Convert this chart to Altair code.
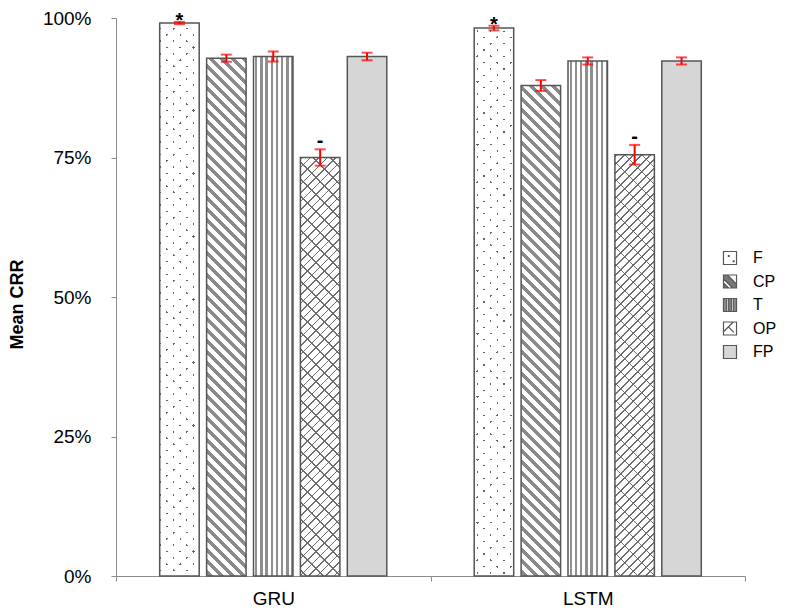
import math
import altair as alt
import pandas as pd

# ---------------- data ----------------
models = ["GRU", "LSTM"]
series = ["F", "CP", "T", "OP", "FP"]
gru_mean = [0.991, 0.928, 0.931, 0.750, 0.931]
lstm_mean = [0.982, 0.879, 0.923, 0.755, 0.923]
gru_err = [0.002, 0.0064, 0.009, 0.0146, 0.0068]
lstm_err = [0.0041, 0.0097, 0.0064, 0.0176, 0.0064]
gru_note = ["*", "", "", "-", ""]
lstm_note = ["*", "", "", "-", ""]
y_ticks = [0.0, 0.25, 0.5, 0.75, 1.0]

rows = []
for m, means, errs, notes in [("GRU", gru_mean, gru_err, gru_note),
                              ("LSTM", lstm_mean, lstm_err, lstm_note)]:
    for s, v, e, n in zip(series, means, errs, notes):
        rows.append({"model": m, "series": s, "mean": v,
                     "lower": v - e, "upper": v + e, "note": n})
df = pd.DataFrame(rows)

# ---------------- layout / style ----------------
FONT = "Liberation Sans"
AX = "#8c8c8c"
EDGE = "#555555"
W, H = 629, 558
PAD_IN, PAD_OUT = 0.158, 0.932
step = (W / len(models)) / (len(series) - PAD_IN + 2 * PAD_OUT)
BW = step * (1 - PAD_IN)
TR = "rgba(255,255,255,0)"


def stripes(w, h, ax, ay, duty, on, off, phase=0.0):
    """Linear gradient (bbox units) giving stripes of f = ax*X + ay*Y (pixels)."""
    su = 0.0 if ax >= 0 else 1.0
    sv = 0.0 if ay >= 0 else 1.0
    R = abs(ax) * w + abs(ay) * h
    mu = R / (ax * ax * w * w + ay * ay * h * h)
    x2 = su + mu * ax * w
    y2 = sv + mu * ay * h
    stops = []
    i = -1
    while (i + phase) / R <= 1:
        a = min(max((i + phase) / R, 0.0), 1.0)
        b = min(max((i + phase + duty) / R, 0.0), 1.0)
        if b > 0 and a < 1:
            for o, c in [(a, off), (a, on), (b, on), (b, off)]:
                stops.append({"offset": round(o, 5), "color": c})
        i += 1
    if not stops:
        stops = [{"offset": 0, "color": off}, {"offset": 1, "color": off}]
    return {"gradient": "linear", "x1": su, "y1": sv,
            "x2": round(x2, 6), "y2": round(y2, 6), "stops": stops}


x_enc = alt.X("model:N", title=None,
              scale=alt.Scale(domain=models, paddingInner=0, paddingOuter=0),
              axis=alt.Axis(labelAngle=0, labelFont=FONT, labelFontSize=19,
                            labelColor="#000000", labelPadding=8,
                            tickBand="extent", tickSize=5, tickColor=AX,
                            domainColor=AX, grid=False))
xo_enc = alt.XOffset("series:N",
                     scale=alt.Scale(domain=series, paddingInner=PAD_IN,
                                     paddingOuter=PAD_OUT))


def y_enc(field):
    return alt.Y(field + ":Q", title="Mean CRR",
                 scale=alt.Scale(domain=[0, 1], nice=False, zero=True),
                 axis=alt.Axis(values=y_ticks, format=".0%", grid=False,
                               labelFont=FONT, labelFontSize=19,
                               labelColor="#000000", labelPadding=20,
                               tickSize=5, tickColor=AX, domainColor=AX,
                               titleFont=FONT, titleFontSize=18,
                               titleFontWeight="bold", titleColor="#000000",
                               titleX=-99, titleY=286,
                               titleBaseline="middle"))


base = alt.Chart(df).encode(x=x_enc, xOffset=xo_enc, y=y_enc("mean"))


def only(m=None, s=None):
    if m is None:
        return base.transform_filter(alt.datum.series == s)
    return base.transform_filter((alt.datum.model == m) & (alt.datum.series == s))


value_of = {("GRU", s): v for s, v in zip(series, gru_mean)}
value_of.update({("LSTM", s): v for s, v in zip(series, lstm_mean)})

layers = []
# solid bases
layers.append(only(s="F").mark_bar(fill="#666666"))
layers.append(only(s="CP").mark_bar(fill="#ffffff"))
layers.append(only(s="T").mark_bar(fill=stripes(BW, 100, 1 / 5.2, 0, 0.45,
                                                "#8f8f8f", "#ffffff", 0.3)))
layers.append(only(s="OP").mark_bar(fill="#ffffff"))
layers.append(only(s="FP").mark_bar(fill="#d6d6d6"))

for m in models:
    # F : staggered dots (masking with two white line families)
    h = value_of[(m, "F")] * H
    layers.append(only(m, "F").mark_bar(
        fill=stripes(BW, h, 1 / 13.3, 1 / 12.6, 0.17, TR, "#ffffff", 0.4)))
    layers.append(only(m, "F").mark_bar(
        fill=stripes(BW, h, 1 / 13.3, -1 / 12.6, 0.17, TR, "#ffffff", 0.4)))
    # CP : diagonal stripes "\"
    h = value_of[(m, "CP")] * H
    layers.append(only(m, "CP").mark_bar(
        fill=stripes(BW, h, 1 / 11.0, -1 / 11.0, 0.47, "#8a8a8a", "#ffffff", 0.2)))
    # OP : diagonal brick-like hatch
    h = value_of[(m, "OP")] * H
    layers.append(only(m, "OP").mark_bar(
        fill=stripes(BW, h, 1 / 8.5, 1 / 8.5, 0.2, "#6e6e6e", TR, 0.1)))
    layers.append(only(m, "OP").mark_bar(
        fill=stripes(BW, h, 1 / 17.0, -1 / 17.0, 0.11, "#6e6e6e", TR, 0.3)))

# outlines
layers.append(base.mark_bar(fill="transparent", stroke=EDGE, strokeWidth=1.5))

# error bars
layers.append(base.mark_rule(color="#ff0000", strokeWidth=2).encode(
    y=y_enc("lower"), y2="upper:Q"))
layers.append(base.mark_tick(color="#ff0000", thickness=2, size=11).encode(
    y=y_enc("lower")))
layers.append(base.mark_tick(color="#ff0000", thickness=2, size=11).encode(
    y=y_enc("upper")))

# annotations
layers.append(base.transform_filter(alt.datum.note == "*").mark_text(
    font=FONT, fontSize=20, fontWeight="bold", color="#000000",
    baseline="middle", dy=-1).encode(y=y_enc("upper"), text="note:N"))
layers.append(base.transform_filter(alt.datum.note == "-").mark_text(
    font=FONT, fontSize=20, fontWeight="bold", color="#000000",
    baseline="middle", dy=-8).encode(y=y_enc("upper"), text="note:N"))

# legend (invisible points carry fill + stroke + custom pattern shapes)
legend_fills = ["#ffffff", "#777777", "#8a8a8a", "#ffffff", "#d6d6d6"]
legend_strokes = [EDGE] * len(series)
legend_paths = [
    "M-1,-1H1V1H-1Z M-0.25,-0.35h0.12v0.12h-0.12Z M0.5,0.45h0.12v0.12h-0.12Z",
    "M-1,-1H1V1H-1Z M-0.4,-1L1,0.4L1,-1Z M-1,-0.4L-1,0.2L-0.2,1L0.4,1Z",
    "M-1,-1H1V1H-1Z M-0.5,-1V1H-0.2V-1Z M0.2,-1V1H0.5V-1Z",
    "M-1,-1H1V1H-1Z M-1,0.5L0.5,-1 M-0.25,-0.25L0.6,0.6",
    "M-1,-1H1V1H-1Z",
]
leg = alt.Legend(title=None, orient="none", legendX=606, legendY=232,
                 direction="vertical", symbolSize=170,
                 symbolStrokeWidth=1.2,
                 symbolOpacity=1, labelFont=FONT, labelFontSize=16,
                 labelColor="#000000", labelOffset=15, rowPadding=5.5,
                 padding=0, offset=0)
layers.append(base.mark_point(filled=True, opacity=0).encode(
    fill=alt.Fill("series:N", scale=alt.Scale(domain=series, range=legend_fills),
                  legend=leg),
    stroke=alt.Stroke("series:N", scale=alt.Scale(domain=series, range=legend_strokes),
                      legend=leg),
    shape=alt.Shape("series:N", scale=alt.Scale(domain=series, range=legend_paths),
                    legend=leg)))

chart = alt.layer(*layers).properties(
    width=W, height=H,
    autosize=alt.AutoSizeParams(type="none"),
    padding={"left": 108, "top": 10, "right": 36, "bottom": 32},
).configure_view(strokeWidth=0)

chart.save("out.html", embed_options={"renderer": "svg", "actions": False})
